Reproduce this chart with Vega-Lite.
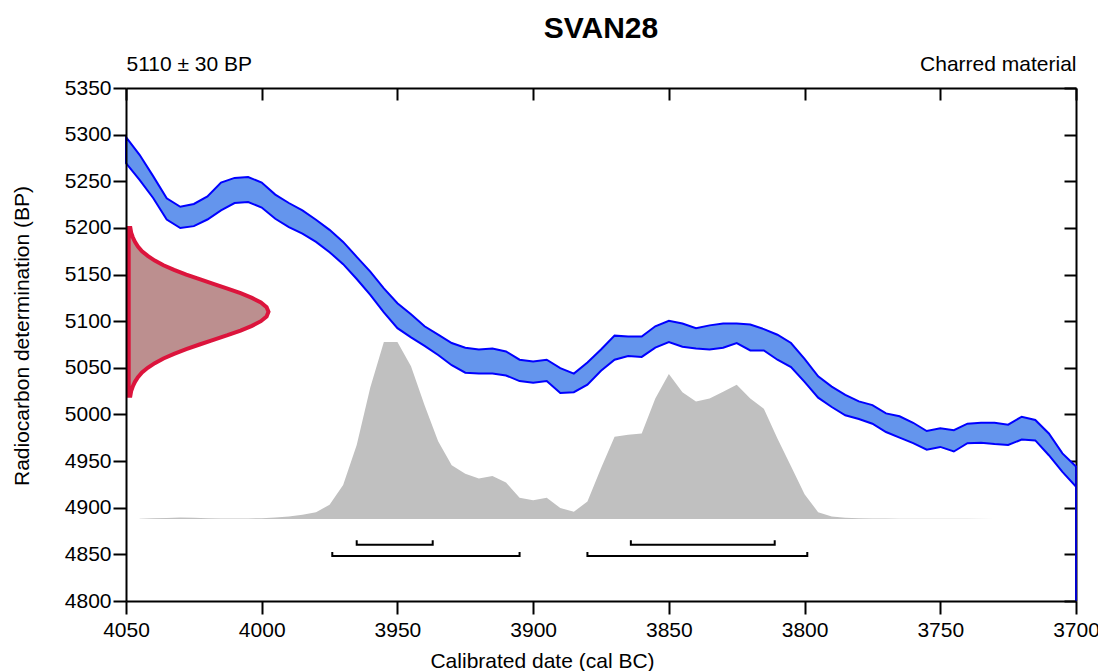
{
  "$schema": "https://vega.github.io/schema/vega-lite/v6.json",
  "width": 950,
  "height": 513,
  "autosize": {"type": "none"},
  "padding": {"left": 126, "top": 88, "right": 22, "bottom": 70},
  "background": "white",
  "title": {"text": "SVAN28", "fontSize": 30, "fontWeight": "bold", "font": "Liberation Sans", "color": "black", "frame": "group", "anchor": "middle", "offset": 10},
  "config": {
    "font": "Liberation Sans",
    "view": {"stroke": null},
    "axis": {"grid": false, "domainColor": "black", "tickColor": "black", "domainWidth": 2, "tickWidth": 2, "labelColor": "black", "titleColor": "black", "labelFontSize": 21, "titleFontSize": 21, "titleFontWeight": "normal", "labelFlush": false, "labelOverlap": false}
  },
  "datasets": {
    "curve": [
      {"year": 4050, "upper": 5297.3, "lower": 5269.5},
      {"year": 4045, "upper": 5278.4, "lower": 5251.6},
      {"year": 4040, "upper": 5255.5, "lower": 5232.1},
      {"year": 4035, "upper": 5231.7, "lower": 5209.0},
      {"year": 4030, "upper": 5222.7, "lower": 5199.9},
      {"year": 4025, "upper": 5225.7, "lower": 5201.9},
      {"year": 4020, "upper": 5233.7, "lower": 5209.0},
      {"year": 4015, "upper": 5248.6, "lower": 5218.8},
      {"year": 4010, "upper": 5253.6, "lower": 5226.7},
      {"year": 4005, "upper": 5254.6, "lower": 5227.7},
      {"year": 4000, "upper": 5248.6, "lower": 5221.8},
      {"year": 3995, "upper": 5235.7, "lower": 5209.8},
      {"year": 3990, "upper": 5226.7, "lower": 5200.9},
      {"year": 3985, "upper": 5218.8, "lower": 5193.9},
      {"year": 3980, "upper": 5208.8, "lower": 5185.0},
      {"year": 3975, "upper": 5197.9, "lower": 5174.0},
      {"year": 3970, "upper": 5185.0, "lower": 5161.1},
      {"year": 3965, "upper": 5169.0, "lower": 5145.2},
      {"year": 3960, "upper": 5153.1, "lower": 5128.3},
      {"year": 3955, "upper": 5135.2, "lower": 5109.4},
      {"year": 3950, "upper": 5119.3, "lower": 5092.5},
      {"year": 3945, "upper": 5107.4, "lower": 5082.6},
      {"year": 3940, "upper": 5094.5, "lower": 5073.6},
      {"year": 3935, "upper": 5085.5, "lower": 5063.7},
      {"year": 3930, "upper": 5076.6, "lower": 5052.8},
      {"year": 3925, "upper": 5071.6, "lower": 5044.8},
      {"year": 3920, "upper": 5069.6, "lower": 5043.8},
      {"year": 3915, "upper": 5070.6, "lower": 5043.8},
      {"year": 3910, "upper": 5067.6, "lower": 5041.8},
      {"year": 3905, "upper": 5058.7, "lower": 5035.8},
      {"year": 3900, "upper": 5056.7, "lower": 5033.9},
      {"year": 3895, "upper": 5058.7, "lower": 5035.8},
      {"year": 3890, "upper": 5049.7, "lower": 5022.9},
      {"year": 3885, "upper": 5043.8, "lower": 5023.9},
      {"year": 3880, "upper": 5055.7, "lower": 5031.9},
      {"year": 3875, "upper": 5069.6, "lower": 5046.8},
      {"year": 3870, "upper": 5084.5, "lower": 5058.7},
      {"year": 3865, "upper": 5083.5, "lower": 5062.7},
      {"year": 3860, "upper": 5083.5, "lower": 5061.7},
      {"year": 3855, "upper": 5094.5, "lower": 5071.6},
      {"year": 3850, "upper": 5100.5, "lower": 5077.6},
      {"year": 3845, "upper": 5097.5, "lower": 5072.6},
      {"year": 3840, "upper": 5092.5, "lower": 5070.6},
      {"year": 3835, "upper": 5095.5, "lower": 5069.6},
      {"year": 3830, "upper": 5097.5, "lower": 5071.6},
      {"year": 3825, "upper": 5097.5, "lower": 5076.6},
      {"year": 3820, "upper": 5096.5, "lower": 5068.6},
      {"year": 3815, "upper": 5091.5, "lower": 5068.6},
      {"year": 3810, "upper": 5085.5, "lower": 5058.7},
      {"year": 3805, "upper": 5076.6, "lower": 5050.7},
      {"year": 3800, "upper": 5059.7, "lower": 5034.9},
      {"year": 3795, "upper": 5040.8, "lower": 5018.0},
      {"year": 3790, "upper": 5029.9, "lower": 5008.0},
      {"year": 3785, "upper": 5021.0, "lower": 4999.1},
      {"year": 3780, "upper": 5014.0, "lower": 4995.1},
      {"year": 3775, "upper": 5010.0, "lower": 4990.1},
      {"year": 3770, "upper": 5001.1, "lower": 4981.2},
      {"year": 3765, "upper": 4998.1, "lower": 4975.2},
      {"year": 3760, "upper": 4991.1, "lower": 4969.2},
      {"year": 3755, "upper": 4982.2, "lower": 4962.2},
      {"year": 3750, "upper": 4985.2, "lower": 4965.2},
      {"year": 3745, "upper": 4983.2, "lower": 4960.3},
      {"year": 3740, "upper": 4990.1, "lower": 4969.2},
      {"year": 3735, "upper": 4991.1, "lower": 4969.7},
      {"year": 3730, "upper": 4991.1, "lower": 4968.2},
      {"year": 3725, "upper": 4989.1, "lower": 4967.2},
      {"year": 3720, "upper": 4997.6, "lower": 4973.2},
      {"year": 3715, "upper": 4994.1, "lower": 4972.2},
      {"year": 3710, "upper": 4979.6, "lower": 4956.3},
      {"year": 3705, "upper": 4958.3, "lower": 4938.4},
      {"year": 3700, "upper": 4944.3, "lower": 4922.5}
    ],
    "edge": [
      {"year": 3700, "from": 4944.3, "to": 4800}
    ],
    "posterior": [
      {"year": 4045, "top": 4888.3},
      {"year": 4040, "top": 4888.6},
      {"year": 4035, "top": 4889.0},
      {"year": 4030, "top": 4889.4},
      {"year": 4025, "top": 4889.2},
      {"year": 4020, "top": 4888.8},
      {"year": 4015, "top": 4888.5},
      {"year": 4010, "top": 4888.4},
      {"year": 4005, "top": 4888.5},
      {"year": 4000, "top": 4888.8},
      {"year": 3995, "top": 4889.4},
      {"year": 3990, "top": 4890.5},
      {"year": 3985, "top": 4892.5},
      {"year": 3980, "top": 4895.2},
      {"year": 3975, "top": 4903.1},
      {"year": 3970, "top": 4924.5},
      {"year": 3965, "top": 4967.2},
      {"year": 3960, "top": 5028.9},
      {"year": 3955, "top": 5077.6},
      {"year": 3950, "top": 5077.6},
      {"year": 3945, "top": 5051.7},
      {"year": 3940, "top": 5010.0},
      {"year": 3935, "top": 4971.2},
      {"year": 3930, "top": 4945.6},
      {"year": 3925, "top": 4936.4},
      {"year": 3920, "top": 4931.4},
      {"year": 3915, "top": 4933.9},
      {"year": 3910, "top": 4927.0},
      {"year": 3905, "top": 4910.6},
      {"year": 3900, "top": 4908.1},
      {"year": 3895, "top": 4910.6},
      {"year": 3890, "top": 4899.6},
      {"year": 3885, "top": 4895.7},
      {"year": 3880, "top": 4906.6},
      {"year": 3875, "top": 4942.4},
      {"year": 3870, "top": 4976.2},
      {"year": 3865, "top": 4978.2},
      {"year": 3860, "top": 4979.7},
      {"year": 3855, "top": 5017.0},
      {"year": 3850, "top": 5043.3},
      {"year": 3845, "top": 5023.9},
      {"year": 3840, "top": 5014.0},
      {"year": 3835, "top": 5017.0},
      {"year": 3830, "top": 5024.4},
      {"year": 3825, "top": 5031.9},
      {"year": 3820, "top": 5017.0},
      {"year": 3815, "top": 5006.0},
      {"year": 3810, "top": 4974.2},
      {"year": 3805, "top": 4944.4},
      {"year": 3800, "top": 4914.5},
      {"year": 3795, "top": 4895.2},
      {"year": 3790, "top": 4890.7},
      {"year": 3785, "top": 4889.3},
      {"year": 3780, "top": 4888.8},
      {"year": 3775, "top": 4888.5},
      {"year": 3770, "top": 4888.35},
      {"year": 3765, "top": 4888.25},
      {"year": 3760, "top": 4888.2},
      {"year": 3750, "top": 4888.1},
      {"year": 3740, "top": 4888.05},
      {"year": 3730, "top": 4888.0}
    ],
    "likelihood": [
      {"bp": 5020, "year": 4048.4},
      {"bp": 5025, "year": 4048.1},
      {"bp": 5030, "year": 4047.5},
      {"bp": 5035, "year": 4046.7},
      {"bp": 5040, "year": 4045.6},
      {"bp": 5045, "year": 4044.1},
      {"bp": 5050, "year": 4042.0},
      {"bp": 5055, "year": 4039.4},
      {"bp": 5060, "year": 4036.2},
      {"bp": 5065, "year": 4032.3},
      {"bp": 5070, "year": 4027.8},
      {"bp": 5075, "year": 4022.9},
      {"bp": 5080, "year": 4017.8},
      {"bp": 5085, "year": 4012.6},
      {"bp": 5090, "year": 4007.8},
      {"bp": 5095, "year": 4003.6},
      {"bp": 5100, "year": 4000.3},
      {"bp": 5105, "year": 3998.2},
      {"bp": 5110, "year": 3997.5},
      {"bp": 5115, "year": 3998.2},
      {"bp": 5120, "year": 4000.3},
      {"bp": 5125, "year": 4003.6},
      {"bp": 5130, "year": 4007.8},
      {"bp": 5135, "year": 4012.6},
      {"bp": 5140, "year": 4017.8},
      {"bp": 5145, "year": 4022.9},
      {"bp": 5150, "year": 4027.8},
      {"bp": 5155, "year": 4032.3},
      {"bp": 5160, "year": 4036.2},
      {"bp": 5165, "year": 4039.4},
      {"bp": 5170, "year": 4042.0},
      {"bp": 5175, "year": 4044.1},
      {"bp": 5180, "year": 4045.6},
      {"bp": 5185, "year": 4046.7},
      {"bp": 5190, "year": 4047.5},
      {"bp": 5195, "year": 4048.1},
      {"bp": 5200, "year": 4048.4}
    ],
    "ranges": [
      {"range": "68a", "i": 1, "year": 3965, "bp": 4865.0},
      {"range": "68a", "i": 2, "year": 3965, "bp": 4860.2},
      {"range": "68a", "i": 3, "year": 3937, "bp": 4860.2},
      {"range": "68a", "i": 4, "year": 3937, "bp": 4865.0},
      {"range": "68b", "i": 1, "year": 3864, "bp": 4865.0},
      {"range": "68b", "i": 2, "year": 3864, "bp": 4860.2},
      {"range": "68b", "i": 3, "year": 3811, "bp": 4860.2},
      {"range": "68b", "i": 4, "year": 3811, "bp": 4865.0},
      {"range": "95a", "i": 1, "year": 3974, "bp": 4852.6},
      {"range": "95a", "i": 2, "year": 3974, "bp": 4848.2},
      {"range": "95a", "i": 3, "year": 3905, "bp": 4848.2},
      {"range": "95a", "i": 4, "year": 3905, "bp": 4852.6},
      {"range": "95b", "i": 1, "year": 3880, "bp": 4852.6},
      {"range": "95b", "i": 2, "year": 3880, "bp": 4848.2},
      {"range": "95b", "i": 3, "year": 3799, "bp": 4848.2},
      {"range": "95b", "i": 4, "year": 3799, "bp": 4852.6}
    ]
  },
  "layer": [
    {
      "data": {"name": "posterior"},
      "mark": {"type": "area", "color": "#C0C0C0", "opacity": 1},
      "encoding": {
        "x": {"field": "year", "type": "quantitative",
          "scale": {"domain": [3700, 4050], "reverse": true, "nice": false, "zero": false},
          "axis": {"orient": "bottom", "values": [4050, 4000, 3950, 3900, 3850, 3800, 3750, 3700], "format": "d", "tickSize": 13, "labelPadding": 5, "title": "Calibrated date (cal BC)", "titlePadding": 10, "titleX": 416, "zindex": 1}},
        "y": {"field": "top", "type": "quantitative",
          "scale": {"domain": [4800, 5350], "nice": false, "zero": false},
          "axis": {"orient": "left", "values": [4800, 4850, 4900, 4950, 5000, 5050, 5100, 5150, 5200, 5250, 5300, 5350], "format": "d", "tickSize": 13, "labelPadding": 2, "title": "Radiocarbon determination (BP)", "titlePadding": 32, "titleY": 247.5, "zindex": 1}},
        "y2": {"datum": 4888}
      }
    },
    {
      "data": {"name": "ranges"},
      "mark": {"type": "line", "color": "black", "strokeWidth": 2, "strokeJoin": "miter", "strokeCap": "butt"},
      "encoding": {
        "x": {"field": "year", "type": "quantitative",
          "scale": {"domain": [3700, 4050], "reverse": true, "nice": false, "zero": false},
          "axis": {"orient": "top", "values": [4050, 4000, 3950, 3900, 3850, 3800, 3750, 3700], "labels": false, "tickSize": -12, "title": "5110 ± 30 BP", "titleX": 0, "titleAlign": "left", "titlePadding": 12.5, "zindex": 0}},
        "y": {"field": "bp", "type": "quantitative",
          "scale": {"domain": [4800, 5350], "nice": false, "zero": false},
          "axis": {"orient": "right", "values": [4800, 4850, 4900, 4950, 5000, 5050, 5100, 5150, 5200, 5250, 5300, 5350], "labels": false, "tickSize": -12, "title": null, "zindex": 0}},
        "detail": {"field": "range", "type": "nominal"},
        "order": {"field": "i", "type": "quantitative"}
      }
    },
    {
      "data": {"name": "curve"},
      "mark": {"type": "area", "fill": "#6495ED", "stroke": "#0000FF", "strokeWidth": 2, "fillOpacity": 1},
      "encoding": {
        "x": {"field": "year", "type": "quantitative",
          "scale": {"domain": [3700, 4050], "reverse": true, "nice": false, "zero": false},
          "axis": {"orient": "top", "domain": false, "ticks": false, "labels": false, "title": "Charred material", "titleX": 950, "titleAlign": "right", "titlePadding": 13.5}},
        "y": {"field": "upper", "type": "quantitative",
          "scale": {"domain": [4800, 5350], "nice": false, "zero": false}, "axis": null},
        "y2": {"field": "lower"}
      }
    },
    {
      "data": {"name": "edge"},
      "mark": {"type": "rule", "color": "#0000CC", "strokeWidth": 2},
      "encoding": {
        "x": {"field": "year", "type": "quantitative",
          "scale": {"domain": [3700, 4050], "reverse": true, "nice": false, "zero": false}, "axis": null},
        "y": {"field": "from", "type": "quantitative",
          "scale": {"domain": [4800, 5350], "nice": false, "zero": false}, "axis": null},
        "y2": {"field": "to"}
      }
    },
    {
      "data": {"name": "likelihood"},
      "mark": {"type": "area", "orient": "horizontal", "fill": "#BC8F8F", "stroke": "#DC143C", "strokeWidth": 4, "fillOpacity": 1},
      "encoding": {
        "y": {"field": "bp", "type": "quantitative",
          "scale": {"domain": [4800, 5350], "nice": false, "zero": false}, "axis": null},
        "x": {"field": "year", "type": "quantitative",
          "scale": {"domain": [3700, 4050], "reverse": true, "nice": false, "zero": false}, "axis": null},
        "x2": {"datum": 4049}
      }
    }
  ],
  "resolve": {"axis": {"x": "independent", "y": "independent"}}
}
